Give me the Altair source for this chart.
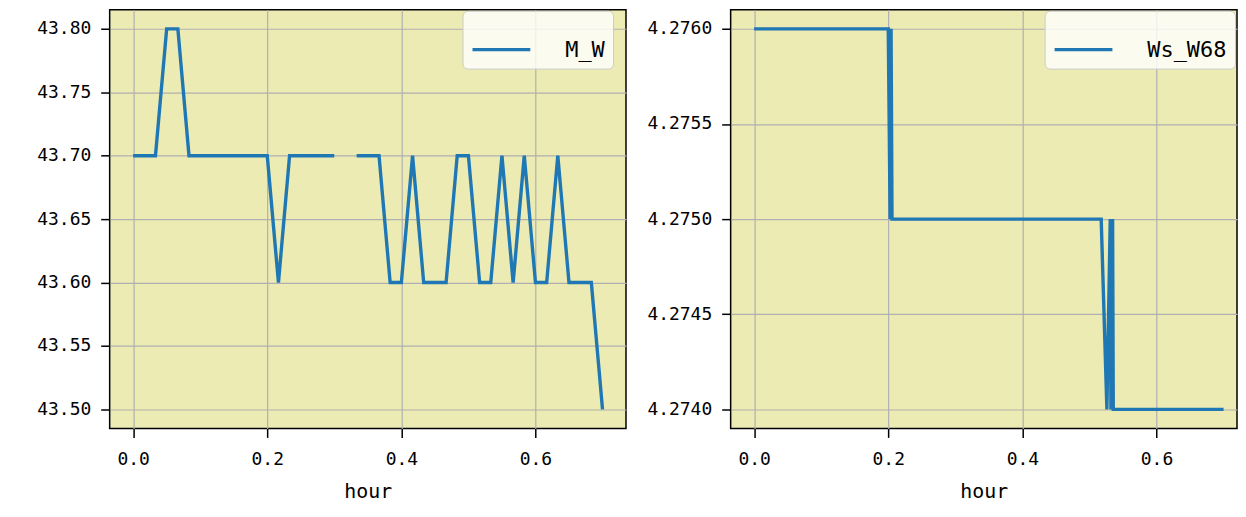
import altair as alt
import pandas as pd

# ---- data ----
hours_l = [0.0000, 0.0167, 0.0333, 0.0500, 0.0667, 0.0833, 0.1000, 0.1167, 0.1333, 0.1500,
           0.1667, 0.1833, 0.2000, 0.2167, 0.2333, 0.2500, 0.2667, 0.2833, 0.3000, 0.3167,
           0.3333, 0.3500, 0.3667, 0.3833, 0.4000, 0.4167, 0.4333, 0.4500, 0.4667, 0.4833,
           0.5000, 0.5167, 0.5333, 0.5500, 0.5667, 0.5833, 0.6000, 0.6167, 0.6333, 0.6500,
           0.6667, 0.6833, 0.7000]
m_w = [43.70, 43.70, 43.70, 43.80, 43.80, 43.70, 43.70, 43.70, 43.70, 43.70,
       43.70, 43.70, 43.70, 43.60, 43.70, 43.70, 43.70, 43.70, 43.70, None,
       43.70, 43.70, 43.70, 43.60, 43.60, 43.70, 43.60, 43.60, 43.60, 43.70,
       43.70, 43.60, 43.60, 43.70, 43.60, 43.70, 43.60, 43.60, 43.70, 43.60,
       43.60, 43.60, 43.50]

hours_r = [0.0000, 0.2000, 0.2028, 0.2042, 0.2056, 0.5175, 0.5260, 0.5310, 0.5320,
           0.5330, 0.5340, 0.5345, 0.5355, 0.7000]
ws_w68 = [4.2760, 4.2760, 4.2750, 4.2760, 4.2750, 4.2750, 4.2740, 4.2750, 4.2740,
          4.2750, 4.2740, 4.2750, 4.2740, 4.2740]

x_ticks = [0.0, 0.2, 0.4, 0.6]
y_ticks_l = [43.50, 43.55, 43.60, 43.65, 43.70, 43.75, 43.80]
y_ticks_r = [4.2740, 4.2745, 4.2750, 4.2755, 4.2760]

df_l = pd.DataFrame({"hour": hours_l, "value": m_w, "series": ["M_W"] * len(hours_l)})
df_r = pd.DataFrame({"hour": hours_r, "value": ws_w68, "series": ["Ws_W68"] * len(hours_r)})

FONT = "DejaVu Sans Mono"
BLUE = "#1f77b4"


def panel(df, xdomain, width, ydomain, yticks, yfmt, minext, legx):
    return alt.Chart(df).mark_line(
        strokeWidth=3.4, invalid="break-paths-show-domains", clip=True
    ).encode(
        x=alt.X("hour:Q",
                scale=alt.Scale(domain=xdomain, nice=False, zero=False),
                axis=alt.Axis(values=x_ticks, format=".1f", title="hour")),
        y=alt.Y("value:Q",
                scale=alt.Scale(domain=ydomain, nice=False, zero=False),
                axis=alt.Axis(values=yticks, format=yfmt, title=None, minExtent=minext)),
        color=alt.Color("series:N",
                        scale=alt.Scale(range=[BLUE]),
                        legend=alt.Legend(orient="none", legendX=legx, legendY=1, title=None,
                                          symbolType="stroke", symbolSize=3364,
                                          symbolStrokeWidth=3.4, labelFont=FONT, labelFontSize=22,
                                          labelColor="black", labelOffset=33, padding=8,
                                          fillColor="rgba(255,255,255,0.8)",
                                          strokeColor="#cccccc", cornerRadius=5)),
    ).properties(width=width, height=420)


left = panel(df_l, [-0.035, 0.735], 518, [43.485, 43.815], y_ticks_l, ".2f", 101, 354)
right = panel(df_r, [-0.035, 0.72], 508, [4.27390, 4.27610], y_ticks_r, ".4f", 99, 315)

chart = alt.hconcat(left, right, spacing=4).resolve_scale(
    x="independent", y="independent", color="independent"
).properties(
    padding={"left": 0, "top": 0, "right": 0, "bottom": 0}
).configure_view(
    fill="#ecebb4", stroke="black", strokeWidth=1.5
).configure_axis(
    domain=False, grid=True, gridColor="#b0b0b0", gridWidth=1.2,
    tickColor="black", tickSize=9, tickWidth=1.5,
    labelFont=FONT, labelFontSize=18, labelColor="black", labelPadding=10,
    titleFont=FONT, titleFontSize=20, titleFontWeight="normal", titleColor="black",
).configure_axisX(
    labelPadding=13, titlePadding=13
)

chart.save("out.html", embed_options={"renderer": "svg", "actions": False})
